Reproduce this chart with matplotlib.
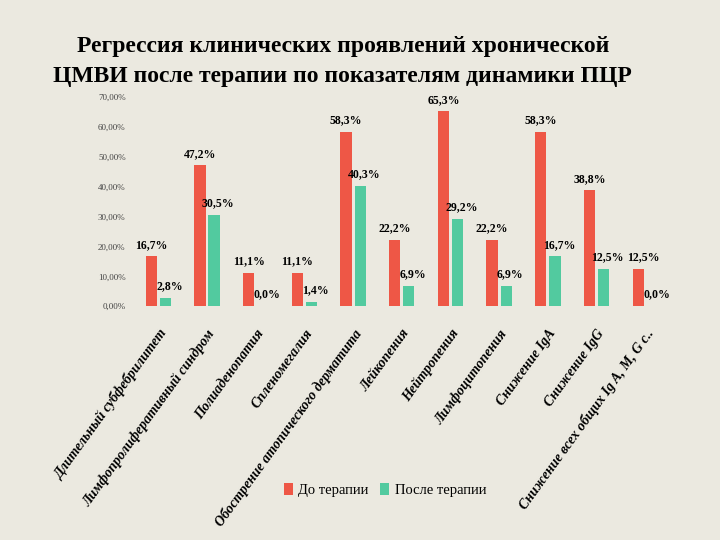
import matplotlib.pyplot as plt
import numpy as np

# категории и значения (доля пациентов, %)
categories = ["Длительный субфебрилитет",
              "Лимфопролиферативный синдром",
              "Полиаденопатия",
              "Спленомегалия",
              "Обострение атопического дерматита",
              "Лейкопения",
              "Нейтропения",
              "Лимфоцитопения",
              "Снижение IgA",
              "Снижение IgG",
              "Снижение всех общих Ig A, M, G с.."]
before = [16.7, 47.2, 11.1, 11.1, 58.3, 22.2, 65.3, 22.2, 58.3, 38.8, 12.5]
after = [2.8, 30.5, 0.0, 1.4, 40.3, 6.9, 29.2, 6.9, 16.7, 12.5, 0.0]
before_labels = ["16,7%", "47,2%", "11,1%", "11,1%", "58,3%", "22,2%",
                 "65,3%", "22,2%", "58,3%", "38,8%", "12,5%"]
after_labels = ["2,8%", "30,5%", "0,0%", "1,4%", "40,3%", "6,9%",
                "29,2%", "6,9%", "16,7%", "12,5%", "0,0%"]
yticks = [0, 10, 20, 30, 40, 50, 60, 70]

bg = '#EBE9E0'
red = '#EE5746'
teal = '#52CA9F'

plt.rcParams['font.family'] = ['Liberation Serif', 'DejaVu Serif']

fig = plt.figure(figsize=(7.2, 5.4), dpi=100, facecolor=bg)
ax = fig.add_axes([0.186, 0.433, 0.744, 0.387])
ax.set_facecolor(bg)

x = np.arange(len(categories))
w = 0.23
d = 0.145
b1 = ax.bar(x - d, before, w, color=red, label='До терапии')
b2 = ax.bar(x + d, after, w, color=teal, label='После терапии')

for i, (rect, lab) in enumerate(zip(b1, before_labels)):
    # последняя подпись чуть правее, чтобы не налезать на соседнюю
    dx = 4 if i == len(b1) - 1 else 0
    ax.annotate(lab, (rect.get_x() + rect.get_width() / 2, rect.get_height()),
                xytext=(dx, 4), textcoords='offset points', ha='center', va='bottom',
                fontsize=8.5, fontweight='bold')
for rect, lab in zip(b2, after_labels):
    ax.annotate(lab, (rect.get_x() + rect.get_width() / 2, rect.get_height()),
                xytext=(3, 4), textcoords='offset points', ha='center', va='bottom',
                fontsize=8.5, fontweight='bold')

ax.set_xlim(-0.5, len(categories) - 0.5)
ax.set_ylim(0, 70)
ax.set_yticks(yticks)
ax.set_yticklabels(['%d,00%%' % v for v in yticks], fontsize=6.5, color='#444444')
ax.set_xticks(x)
ax.set_xticklabels(categories, rotation=54, ha='right', va='top',
                   rotation_mode='anchor', fontsize=10, fontweight='bold',
                   fontstyle='italic')
ax.tick_params(axis='x', length=0, pad=15)
ax.tick_params(axis='y', length=0, pad=6)
for s in ax.spines.values():
    s.set_visible(False)

fig.text(0.476, 0.913, 'Регрессия клинических проявлений хронической',
         ha='center', va='center', fontsize=17, fontweight='bold')
fig.text(0.476, 0.859, 'ЦМВИ после терапии по показателям динамики ПЦР',
         ha='center', va='center', fontsize=17, fontweight='bold')

fig.legend(handles=[b1, b2], labels=['До терапии', 'После терапии'],
           loc='center', bbox_to_anchor=(0.535, 0.093), ncol=2, frameon=False,
           fontsize=10.5, handlelength=0.6, handleheight=0.9, handletextpad=0.4,
           columnspacing=0.8)

fig.savefig('out.png', dpi=100, facecolor=bg)
